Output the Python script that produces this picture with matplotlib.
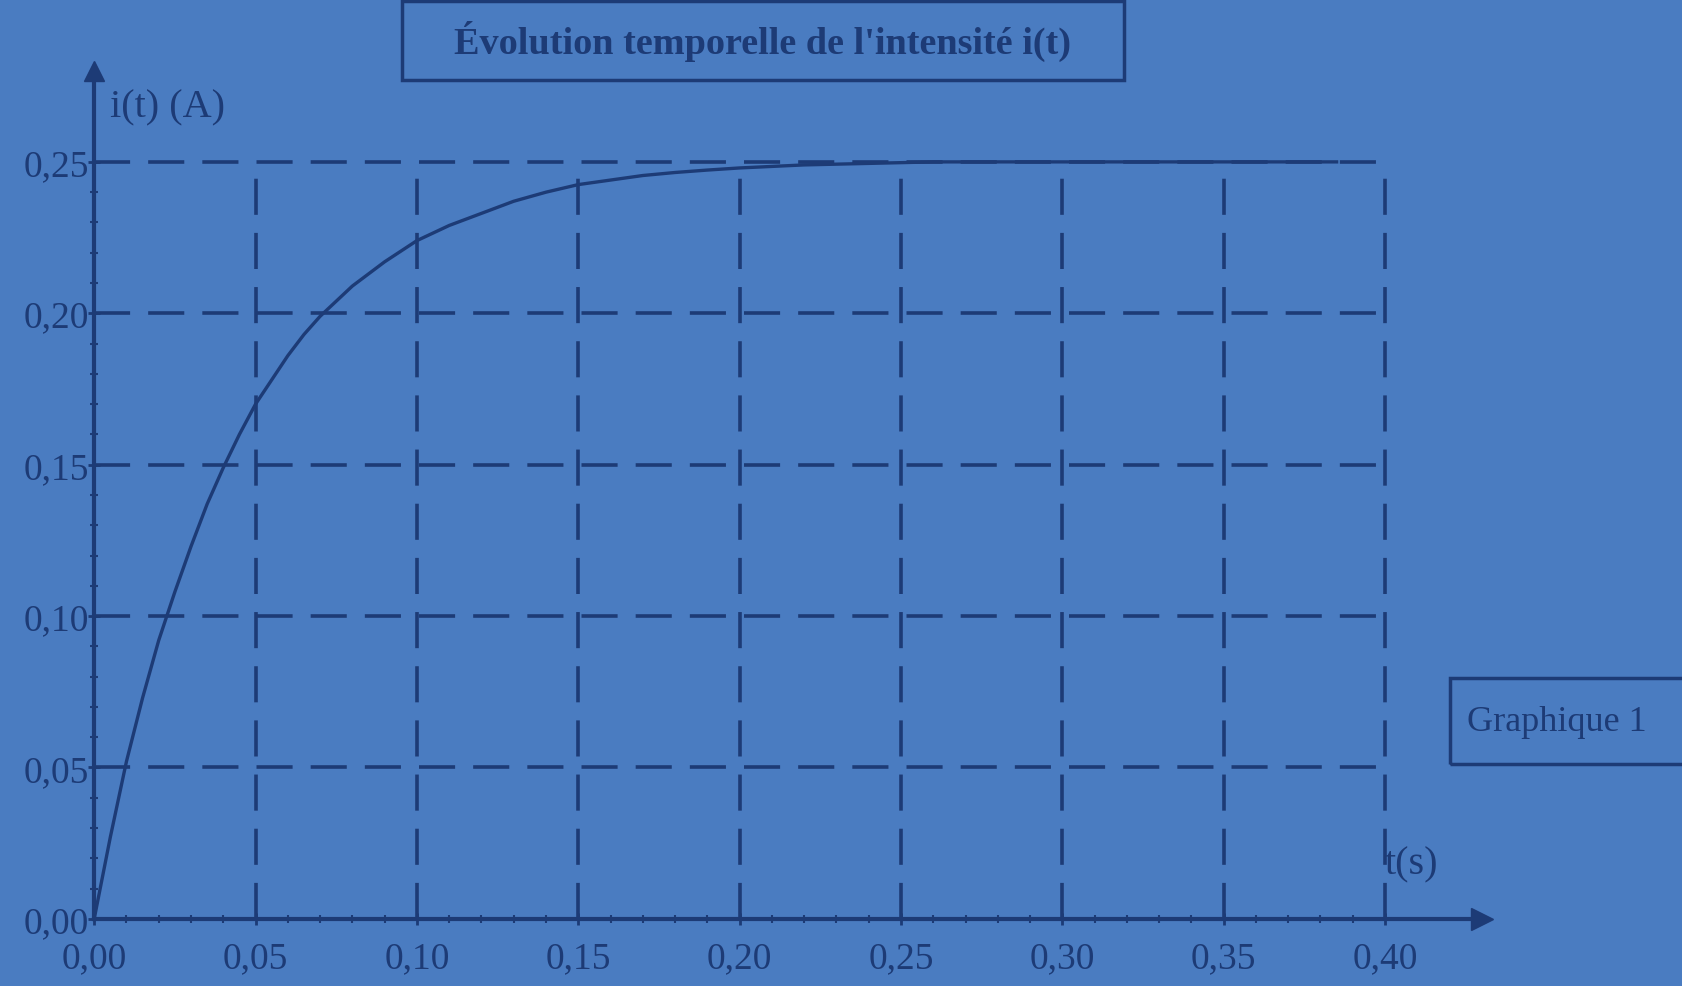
import matplotlib.pyplot as plt
import matplotlib.patches as mpatches
import numpy as np

plt.rcParams['font.family'] = ['Liberation Serif', 'DejaVu Serif']

bg = '#4a7cc1'
ink = '#1d3b76'

# values
t = [0, 0.005, 0.01, 0.015, 0.02, 0.025, 0.03, 0.035, 0.04, 0.045, 0.05, 0.055,
     0.06, 0.065, 0.07, 0.075, 0.08, 0.09, 0.10, 0.11, 0.12, 0.13, 0.14, 0.15,
     0.16, 0.17, 0.18, 0.19, 0.20, 0.22, 0.24, 0.26, 0.30, 0.34, 0.385]
i = [0, 0.027, 0.052, 0.073, 0.092, 0.108, 0.123, 0.137, 0.149, 0.160, 0.170, 0.178,
     0.186, 0.193, 0.199, 0.204, 0.209, 0.217, 0.224, 0.229, 0.233, 0.237, 0.240, 0.2425,
     0.244, 0.2455, 0.2465, 0.2473, 0.248, 0.249, 0.2495, 0.250, 0.250, 0.250, 0.250]

xticks = [0, 0.05, 0.10, 0.15, 0.20, 0.25, 0.30, 0.35, 0.40]
xlabels = ['0,00', '0,05', '0,10', '0,15', '0,20', '0,25', '0,30', '0,35', '0,40']
yticks = [0, 0.05, 0.10, 0.15, 0.20, 0.25]
ylabels = ['0,00', '0,05', '0,10', '0,15', '0,20', '0,25']

fig = plt.figure(figsize=(16.82, 9.87), dpi=100, facecolor=bg)
ax = fig.add_axes([0.056, 0.068, 0.825, 0.859])
ax.set_facecolor(bg)

ax.set_xlim(0, 0.43)
ax.set_ylim(0, 0.28)

# dashed grid box
ax.hlines(yticks[1:], 0, 0.40, colors=ink, lw=2.6, linestyles=(0, (10, 5)))
ax.vlines(xticks[1:], 0, 0.25, colors=ink, lw=2.6, linestyles=(0, (10, 5)))

ax.plot(t, i, color=ink, lw=2.4)

for s in ['top', 'right']:
    ax.spines[s].set_visible(False)
for s in ['left', 'bottom']:
    ax.spines[s].set_color(ink)
    ax.spines[s].set_linewidth(3)
ax.plot(0.43, 0, '>', color=ink, ms=16, clip_on=False)
ax.plot(0, 0.28, '^', color=ink, ms=14, clip_on=False)

ax.set_xticks(xticks)
ax.set_xticklabels(xlabels)
ax.set_yticks(yticks)
ax.set_yticklabels(ylabels)
ax.set_xticks(np.arange(0, 0.41, 0.01), minor=True)
ax.set_yticks(np.arange(0, 0.26, 0.01), minor=True)
ax.tick_params(which='major', colors=ink, labelsize=27, length=8, width=2,
               direction='inout')
ax.tick_params(which='minor', colors=ink, length=6, width=1.5, direction='inout')
ax.tick_params(axis='y', pad=0)
ax.tick_params(axis='x', pad=12)

ax.text(0.005, 0.268, 'i(t) (A)', color=ink, fontsize=29, ha='left', va='center')
ax.text(0.400, 0.018, 't(s)', color=ink, fontsize=29, ha='left', va='center')

# title box
fig.patches.append(mpatches.Rectangle((0.239, 0.918), 0.429, 0.08, transform=fig.transFigure,
                                      facecolor='none', edgecolor=ink, lw=2.5))
fig.text(0.4535, 0.958, "Évolution temporelle de l'intensité i(t)", color=ink,
         fontsize=27.5, fontweight='bold', ha='center', va='center')

fig.patches.append(mpatches.Rectangle((0.862, 0.225), 0.16, 0.087, transform=fig.transFigure,
                                      facecolor='none', edgecolor=ink, lw=2.5))
fig.text(0.872, 0.268, 'Graphique 1', color=ink, fontsize=26, ha='left', va='center')

plt.savefig('out.png', dpi=100, facecolor=bg)
